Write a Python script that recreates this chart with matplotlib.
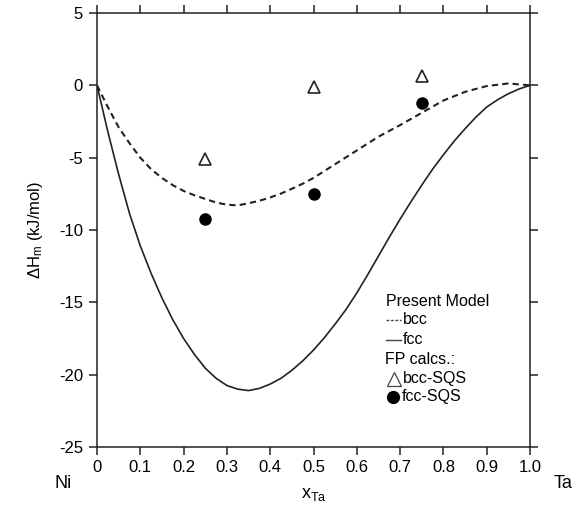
import matplotlib
matplotlib.use("Agg")
import matplotlib.pyplot as plt

plt.rcParams['font.family'] = ['Liberation Sans', 'DejaVu Sans']
plt.rcParams['mathtext.fontset'] = 'custom'
plt.rcParams['mathtext.rm'] = 'Liberation Sans'
plt.rcParams['mathtext.it'] = 'Liberation Sans'
plt.rcParams['axes.unicode_minus'] = False

# Model curves
x_bcc = [0.0, 0.025, 0.05, 0.075, 0.1, 0.125, 0.15, 0.175, 0.2, 0.225, 0.25, 0.275, 0.3,
         0.325, 0.35, 0.375, 0.4, 0.425, 0.45, 0.475, 0.5, 0.55, 0.6, 0.65, 0.7, 0.75,
         0.8, 0.85, 0.9, 0.95, 1.0]
bcc_model = [0.0, -1.5, -2.9, -4.0, -5.0, -5.8, -6.4, -6.9, -7.3, -7.6, -7.85, -8.1, -8.25,
             -8.3, -8.15, -7.98, -7.75, -7.48, -7.15, -6.8, -6.4, -5.45, -4.5, -3.55, -2.75, -1.9,
             -1.05, -0.45, -0.05, 0.13, 0.0]

x_fcc = [0.0, 0.025, 0.05, 0.075, 0.1, 0.125, 0.15, 0.175, 0.2, 0.225, 0.25, 0.275, 0.3,
         0.325, 0.35, 0.375, 0.4, 0.425, 0.45, 0.475, 0.5, 0.525, 0.55, 0.575, 0.6, 0.625,
         0.65, 0.675, 0.7, 0.725, 0.75, 0.775, 0.8, 0.825, 0.85, 0.875, 0.9, 0.925, 0.95,
         0.975, 1.0]
fcc_model = [0.0, -3.2, -6.15, -8.85, -11.1, -13.0, -14.7, -16.2, -17.5, -18.6, -19.55, -20.25, -20.75,
             -21.0, -21.1, -20.95, -20.65, -20.25, -19.7, -19.05, -18.3, -17.45, -16.5, -15.5, -14.35, -13.1,
             -11.8, -10.5, -9.25, -8.05, -6.9, -5.8, -4.8, -3.85, -3.0, -2.2, -1.5, -1.0, -0.58,
             -0.25, 0.0]

# First-principles SQS points
x_sqs = [0.25, 0.5, 0.75]
bcc_sqs = [-5.1, -0.1, 0.65]
fcc_sqs = [-9.25, -7.5, -1.2]

xticks = [0, 0.1, 0.2, 0.3, 0.4, 0.5, 0.6, 0.7, 0.8, 0.9, 1.0]
xticklabels = ['0', '0.1', '0.2', '0.3', '0.4', '0.5', '0.6', '0.7', '0.8', '0.9', '1.0']
yticks = [-25, -20, -15, -10, -5, 0, 5]

fig = plt.figure(figsize=(5.87, 5.13), dpi=100)
W, H = 587, 513
L, R, T, B = 97, 530, 13, 447
ax = fig.add_axes([L / W, 1 - B / H, (R - L) / W, (B - T) / H])

ax.plot(x_bcc, bcc_model, color='#222222', lw=1.5, linestyle=(0, (3, 2)))
ax.plot(x_fcc, fcc_model, color='#222222', lw=1.2)
ax.plot(x_sqs, bcc_sqs, linestyle='none', marker='^', markersize=8,
        markerfacecolor='white', markeredgecolor='#222222', markeredgewidth=1.2)
ax.plot(x_sqs, fcc_sqs, linestyle='none', marker='o', markersize=8,
        markerfacecolor='black', markeredgecolor='black')

ax.set_xlim(0, 1.0)
ax.set_ylim(-25, 5)
ax.set_xticks(xticks)
ax.set_xticklabels(xticklabels)
ax.set_yticks(yticks)
ax.tick_params(direction='out', length=6, width=1.1, labelsize=12,
               top=True, right=True, color='#222222')
ax.tick_params(axis='x', pad=3)
ax.tick_params(axis='y', pad=4)
for s in ax.spines.values():
    s.set_linewidth(1.1)
    s.set_color('#222222')

ax.set_xlabel(r'x$_{\mathrm{Ta}}$', fontsize=13, labelpad=8)
ax.set_ylabel(r'$\Delta$H$_{\mathrm{m}}$ (kJ/mol)', fontsize=12, labelpad=10)

# Element labels
fig.text(63 / W, 1 - 483 / H, 'Ni', fontsize=13, ha='center', va='center')
fig.text(563 / W, 1 - 483 / H, 'Ta', fontsize=13, ha='center', va='center')

# Custom legend
def fx(px):
    return (px - L) / (R - L)

def fy(py):
    return (B - py) / (B - T)

fs = 11.5
ax.text(fx(386), fy(301), 'Present Model', fontsize=fs, va='center', ha='left', transform=ax.transAxes)
ax.plot([fx(386), fx(401)], [fy(320), fy(320)], color='#444444', lw=1.0,
        linestyle=(0, (2, 1.2)), transform=ax.transAxes, clip_on=False)
ax.text(fx(403), fy(320), 'bcc', fontsize=fs, va='center', ha='left', transform=ax.transAxes)
ax.plot([fx(386), fx(401)], [fy(340), fy(340)], color='#444444', lw=1.0,
        transform=ax.transAxes, clip_on=False)
ax.text(fx(403), fy(340), 'fcc', fontsize=fs, va='center', ha='left', transform=ax.transAxes)
ax.text(fx(385), fy(360), 'FP calcs.:', fontsize=fs, va='center', ha='left', transform=ax.transAxes)
ax.plot([fx(394)], [fy(379)], marker='^', markersize=10, markerfacecolor='white',
        markeredgecolor='#444444', markeredgewidth=0.9, transform=ax.transAxes, clip_on=False)
ax.text(fx(403), fy(378), 'bcc-SQS', fontsize=fs, va='center', ha='left', transform=ax.transAxes)
ax.plot([fx(393)], [fy(397)], marker='o', markersize=8.5, color='black',
        transform=ax.transAxes, clip_on=False)
ax.text(fx(402), fy(397), 'fcc-SQS', fontsize=fs, va='center', ha='left', transform=ax.transAxes)

fig.savefig('out.png', dpi=100)
